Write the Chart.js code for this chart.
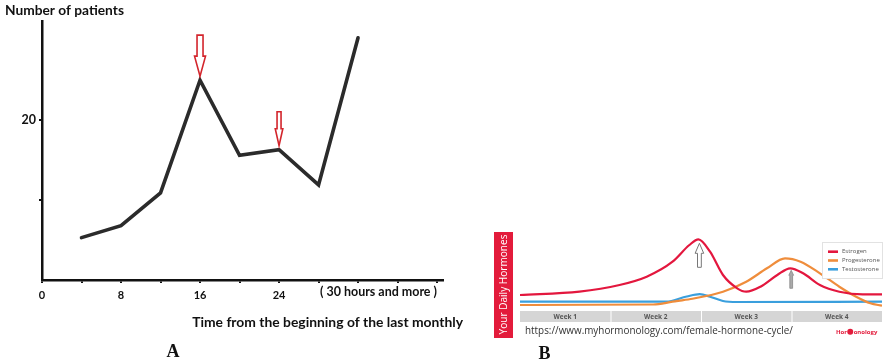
<!DOCTYPE html>
<html>
<head>
<meta charset="utf-8">
<script src="https://cdn.jsdelivr.net/npm/chart.js@4.4.0/dist/chart.umd.min.js"></script>
<style>
  body { margin: 0; background: #fff; }
  #wrap { position: relative; width: 889px; height: 363px; }
  #chartA { position: absolute; left: 0; top: 0; }
  #chartB { position: absolute; left: 480px; top: 220px; }
</style>
</head>
<body>
<div id="wrap">
  <canvas id="chartA" width="480" height="363"></canvas>
  <canvas id="chartB" width="409" height="143"></canvas>
</div>
<script>
// ---- panel A data ----
const hours = [4, 8, 12, 16, 20, 24, 28, 32];
const patients = [5.3, 6.8, 10.9, 25, 15.6, 16.3, 11.9, 30.3];
const hourTicks = [0, 4, 8, 12, 16, 20, 24, 28, 32, 36, 40];
const hourLabels = { 0: '0', 8: '8', 16: '16', 24: '24' };
const patientTicks = [10, 20];
const arrowHours = [16, 24];

// ---- panel B data ----
const estrogenDays = [0, 4.6, 7.7, 9.8, 11.8, 13.1, 13.8, 14.7, 15.7, 16.8, 17.5, 18.6, 19.9, 20.9, 21.9, 23.2, 24.7, 26.5, 28];
const estrogen = [15, 18.3, 25, 33.3, 48.3, 65, 70.7, 58.3, 35, 21.7, 18.3, 23.3, 35, 41.7, 36.7, 25, 18.3, 15.7, 15.7];
const progDays = [0, 10.3, 11.8, 13.2, 15.7, 17.5, 19.1, 20.5, 21.7, 23.2, 24.7, 26, 27.1, 28];
const progesterone = [5, 5.5, 8.3, 11, 18.3, 28.3, 41.7, 51.7, 48.3, 36.7, 23.3, 13.3, 6.7, 4.3];
const testoDays = [0, 11.3, 12.9, 13.9, 14.7, 15.7, 16.8, 28];
const testosterone = [8.3, 8.3, 13.5, 15.8, 13.3, 9, 8, 8.3];
const weeks = ['Week 1', 'Week 2', 'Week 3', 'Week 4'];

const fontA = 'Lato, "Liberation Sans", sans-serif';
const fontB = '"Open Sans", "Liberation Sans", sans-serif';

function toPoints(xs, ys) {
  return xs.map((x, i) => ({ x: x, y: ys[i] }));
}

// set a font whose size makes text about `width` px wide
function fitFont(ctx, text, style, family, width) {
  ctx.font = style + ' 10px ' + family;
  const size = 10 * width / ctx.measureText(text).width;
  ctx.font = style + ' ' + size.toFixed(2) + 'px ' + family;
}

function arrowPath(ctx, cx, tip, dir, len, head, hw, sw) {
  // dir = 1 points down, -1 points up
  const base = tip - dir * head;
  const tail = tip - dir * len;
  ctx.beginPath();
  ctx.moveTo(cx - sw, tail);
  ctx.lineTo(cx + sw, tail);
  ctx.lineTo(cx + sw, base);
  ctx.lineTo(cx + hw, base);
  ctx.lineTo(cx, tip);
  ctx.lineTo(cx - hw, base);
  ctx.lineTo(cx - sw, base);
  ctx.closePath();
}

const annotA = {
  id: 'annotA',
  afterDraw(chart) {
    const { ctx, scales: { x, y } } = chart;
    ctx.save();
    ctx.fillStyle = '#111';
    ctx.textBaseline = 'middle';
    ctx.textAlign = 'left';
    fitFont(ctx, 'Number of patients', 'bold', fontA, 119);
    ctx.fillText('Number of patients', 5, 11);
    fitFont(ctx, '( 30 hours and more )', 'bold', fontA, 117);
    ctx.textAlign = 'center';
    ctx.fillText('( 30 hours and more )', 378.5, 292);
    fitFont(ctx, 'Time from the beginning of the last monthly', 'bold', fontA, 271);
    ctx.textAlign = 'right';
    ctx.fillText('Time from the beginning of the last monthly', 463, 323);
    ctx.font = 'bold 18px "Liberation Serif", serif';
    ctx.textAlign = 'center';
    ctx.fillText('A', 173, 352);

    // red hollow arrows above the two peaks
    const sizes = [{ len: 41, head: 20, hw: 5.5, sw: 3 }, { len: 34, head: 17, hw: 3.8, sw: 2 }];
    arrowHours.forEach((h, i) => {
      const cx = x.getPixelForValue(h);
      const tip = y.getPixelForValue(patients[hours.indexOf(h)]) - 4;
      const s = sizes[i];
      arrowPath(ctx, cx, tip, 1, s.len, s.head, s.hw, s.sw);
      ctx.fillStyle = '#fff';
      ctx.fill();
      ctx.strokeStyle = '#d3252c';
      ctx.lineWidth = 1.6;
      ctx.stroke();
    });
    ctx.restore();
  }
};

new Chart(document.getElementById('chartA'), {
  type: 'line',
  data: {
    datasets: [{
      label: 'Number of patients',
      data: toPoints(hours, patients),
      borderColor: '#2b2b2b',
      borderWidth: 3.6,
      pointRadius: 0,
      borderCapStyle: 'round',
      tension: 0
    }]
  },
  options: {
    responsive: false,
    animation: false,
    layout: { padding: { left: 0, right: 37, top: 21, bottom: 0 } },
    plugins: { legend: { display: false }, tooltip: { enabled: false } },
    scales: {
      x: {
        type: 'linear', min: 0, max: 40.6,
        afterBuildTicks: s => { s.ticks = hourTicks.map(v => ({ value: v })); },
        afterFit: s => { s.height = 83; },
        border: { color: '#111', width: 2.5 },
        grid: { drawOnChartArea: false, tickLength: 3, color: '#111', lineWidth: 2 },
        ticks: {
          callback: v => hourLabels[v] ?? '',
          font: { family: fontA, weight: 'bold', size: 11 },
          color: '#111', padding: 6, maxRotation: 0, autoSkip: false
        }
      },
      y: {
        min: 0, max: 32.4,
        afterBuildTicks: s => { s.ticks = patientTicks.map(v => ({ value: v })); },
        afterFit: s => { s.width = 42; },
        border: { color: '#111', width: 2.5 },
        grid: { drawOnChartArea: false, tickLength: 3, color: '#111', lineWidth: 2 },
        ticks: {
          callback: v => (v === 20 ? '20' : ''),
          font: { family: fontA, weight: 'bold', size: 12.5 },
          color: '#111', padding: 3
        }
      }
    }
  },
  plugins: [annotA]
});

const annotB = {
  id: 'annotB',
  beforeDraw(chart) {
    const { ctx, scales: { x } } = chart;
    ctx.save();
    // red side band
    ctx.fillStyle = '#e31b3b';
    ctx.fillRect(14, 12, 19, 106);
    ctx.translate(23.8, 64.5);
    ctx.rotate(-Math.PI / 2);
    ctx.fillStyle = '#fff';
    fitFont(ctx, 'Your Daily Hormones', '', fontB, 100);
    ctx.textAlign = 'center';
    ctx.textBaseline = 'middle';
    ctx.fillText('Your Daily Hormones', 0, 0);
    ctx.restore();

    ctx.save();
    // week bar
    weeks.forEach((w, i) => {
      const x0 = x.getPixelForValue(i * 7);
      const x1 = x.getPixelForValue(i * 7 + 7);
      ctx.fillStyle = '#d5d5d5';
      ctx.fillRect(x0 + (i ? 1 : 0), 91, x1 - x0 - (i ? 1 : 0), 11);
      ctx.fillStyle = '#555';
      ctx.font = 'bold 6.5px ' + fontB;
      ctx.textAlign = 'center';
      ctx.textBaseline = 'middle';
      ctx.fillText(w, (x0 + x1) / 2, 96.8);
    });
    // source url
    ctx.fillStyle = '#333';
    fitFont(ctx, 'https://www.myhormonology.com/female-hormone-cycle/', '', fontB, 268);
    ctx.textAlign = 'left';
    ctx.fillText('https://www.myhormonology.com/female-hormone-cycle/', 45, 111.5);
    // logo
    ctx.fillStyle = '#e31b3b';
    ctx.font = 'bold 6px ' + fontB;
    ctx.fillText('Hor', 356, 112);
    const w1 = ctx.measureText('Hor').width;
    ctx.beginPath();
    ctx.arc(356 + w1 + 3.2, 111.8, 3, 0, Math.PI * 2);
    ctx.fill();
    ctx.fillText('onology', 356 + w1 + 6.6, 112);
    // panel letter
    ctx.fillStyle = '#111';
    ctx.font = 'bold 18px "Liberation Serif", serif';
    ctx.textAlign = 'center';
    ctx.fillText('B', 64.5, 134);
    ctx.restore();
  },
  afterDraw(chart) {
    const { ctx, scales: { x, y } } = chart;
    ctx.save();
    // arrow at estrogen peak
    const i1 = estrogen.indexOf(Math.max(...estrogen));
    arrowPath(ctx, x.getPixelForValue(estrogenDays[i1]) + 1, y.getPixelForValue(estrogen[i1]) + 4, -1, 24, 10, 4.3, 1.9);
    ctx.fillStyle = '#fff';
    ctx.fill();
    ctx.strokeStyle = '#777';
    ctx.lineWidth = 1;
    ctx.stroke();
    // small arrow at second estrogen peak
    const i2 = 13;
    arrowPath(ctx, x.getPixelForValue(estrogenDays[i2]) + 1, y.getPixelForValue(estrogen[i2]) + 2, -1, 18, 5, 2.4, 1.4);
    ctx.fillStyle = '#aaa';
    ctx.fill();
    ctx.strokeStyle = '#888';
    ctx.lineWidth = 0.8;
    ctx.stroke();

    // legend box
    ctx.fillStyle = '#fff';
    ctx.fillRect(342, 22, 61, 36);
    ctx.strokeStyle = '#e2e2e2';
    ctx.lineWidth = 1;
    ctx.strokeRect(342.5, 22.5, 60, 36);
    chart.data.datasets.forEach((ds, i) => {
      const yy = 31.7 + i * 8.8;
      ctx.strokeStyle = ds.borderColor;
      ctx.lineWidth = 2.6;
      ctx.beginPath();
      ctx.moveTo(348, yy);
      ctx.lineTo(358, yy);
      ctx.stroke();
      ctx.fillStyle = '#555';
      ctx.font = '6px ' + fontB;
      ctx.textAlign = 'left';
      ctx.textBaseline = 'middle';
      ctx.fillText(ds.label, 362, yy);
    });
    ctx.restore();
  }
};

new Chart(document.getElementById('chartB'), {
  type: 'line',
  data: {
    datasets: [
      { label: 'Estrogen', data: toPoints(estrogenDays, estrogen), borderColor: '#e3173e' },
      { label: 'Progesterone', data: toPoints(progDays, progesterone), borderColor: '#ef8d3c' },
      { label: 'Testosterone', data: toPoints(testoDays, testosterone), borderColor: '#3a9fdd' }
    ].map(d => Object.assign(d, { borderWidth: 2.2, pointRadius: 0, cubicInterpolationMode: 'monotone' }))
  },
  options: {
    responsive: false,
    animation: false,
    layout: { padding: { left: 40, right: 7, top: 10, bottom: 53 } },
    plugins: { legend: { display: false }, tooltip: { enabled: false } },
    scales: {
      x: { type: 'linear', min: 0, max: 28, display: false },
      y: { min: 0, max: 80, display: false }
    }
  },
  plugins: [annotB]
});
</script>
</body>
</html>
